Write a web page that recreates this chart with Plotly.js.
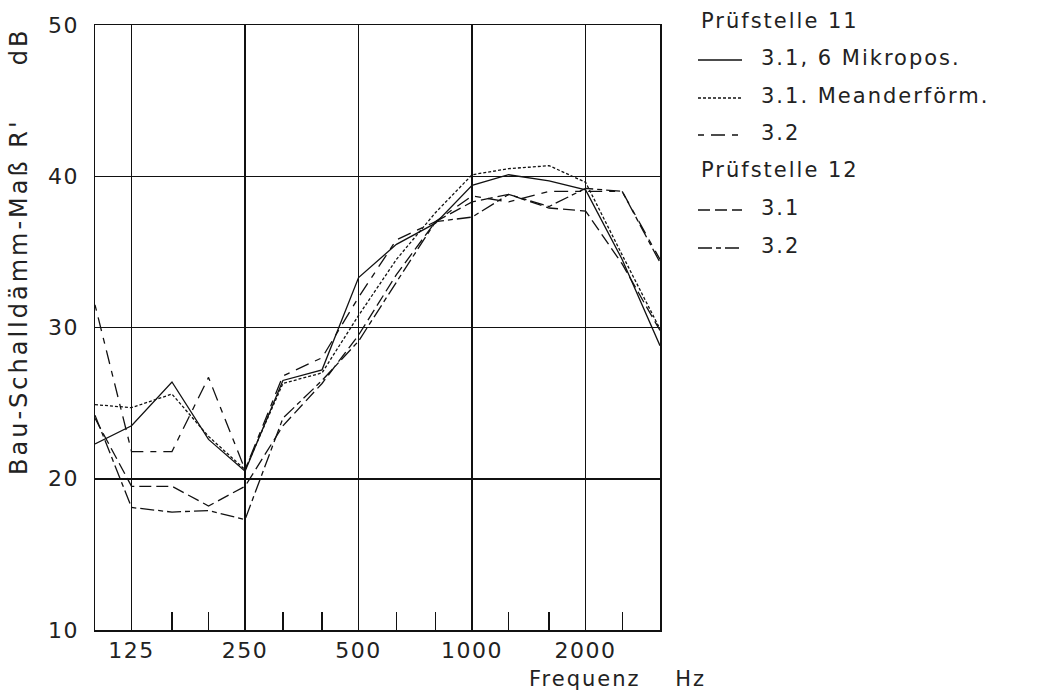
<!DOCTYPE html>
<html>
<head>
<meta charset="utf-8">
<script src="https://cdn.plot.ly/plotly-3.0.1.min.js"></script>
<style>
  html, body { margin: 0; padding: 0; background: #fff; }
  #chart { width: 1060px; height: 695px; }
  #chart .xtick text, #chart .ytick text { letter-spacing: 1.5px; }
</style>
</head>
<body>
<div id="chart"></div>
<script>
// Third-octave band centre frequencies (Hz)
const bands = [100, 125, 160, 200, 250, 315, 400, 500, 630, 800, 1000, 1250, 1600, 2000, 2500, 3150];

// Apparent sound reduction index R' (dB) per band
const p11_31_mikro   = [22.3, 23.5, 26.4, 22.6, 20.5, 26.5, 27.2, 33.3, 35.5, 36.9, 39.4, 40.1, 39.7, 39.1, 34.5, 28.8];
const p11_31_meander = [24.9, 24.7, 25.6, 22.8, 20.6, 26.3, 27.0, 30.8, 34.5, 37.6, 40.1, 40.5, 40.7, 39.6, 34.8, 29.9];
const p11_32         = [31.5, 21.8, 21.8, 26.7, 20.6, 26.8, 28.0, 32.0, 35.8, 37.0, 38.7, 38.3, 39.0, 39.0, 39.0, 34.5];
const p12_31         = [24.0, 19.5, 19.5, 18.2, 19.5, 23.5, 26.3, 29.5, 33.5, 37.0, 38.3, 38.8, 37.9, 37.7, 34.2, 29.8];
const p12_32         = [24.2, 18.1, 17.8, 17.9, 17.3, 24.0, 26.5, 29.1, 33.0, 37.0, 37.3, 38.8, 38.0, 39.2, 39.0, 34.3];

// Axis labelling
const octaveTicks = [125, 250, 500, 1000, 2000];
const octaveLabels = ['125', '250', '500', '1000', '2000'];
const bandTicks = [160, 200, 315, 400, 630, 800, 1250, 1600, 2500];
const dbTicks = [10, 20, 30, 40, 50];

// Legend entries
const groupTitles = ['Prüfstelle 11', 'Prüfstelle 12'];
const legendNames = ['3.1, 6 Mikropos.', '3.1. Meanderförm.', '3.2', '3.1', '3.2'];

const dashes = {
  solid: 'solid',
  fine: '3px,2px',
  shortLong: '6px,7px,14px,7px',
  long: '12px,5px',
  longShort: '14px,4px,5px,4px'
};

const series = [
  { y: p11_31_mikro,   dash: dashes.solid },
  { y: p11_31_meander, dash: dashes.fine },
  { y: p11_32,         dash: dashes.shortLong },
  { y: p12_31,         dash: dashes.long },
  { y: p12_32,         dash: dashes.longShort }
];

const INK = '#111';
const TEXT = '#222';
const FONT = 'DejaVu Sans, sans-serif';
const SPACING = 2;   // letter spacing (px) applied to free text after drawing

const traces = series.map((s, i) => ({
  type: 'scatter',
  mode: 'lines',
  x: bands,
  y: s.y,
  name: legendNames[i],
  line: { color: INK, width: 1.3, dash: s.dash },
  showlegend: false,
  hoverinfo: 'x+y'
}));

// Plot area in pixels
const W = 1060, H = 695;
const M = { l: 95, r: 400, t: 25, b: 65 };
const plotW = W - M.l - M.r, plotH = H - M.t - M.b;
const px = x => (x - M.l) / plotW;
const py = y => (H - M.b - y) / plotH;

// Letter spacing widens text around its centre; offset anchors so edges stay put
const charCount = t => t.replace(/&nbsp;/g, ' ').length;
const leftAt = (x, t, ls) => px(x + charCount(t) * ls / 2);
const rightAt = (x, t, ls) => px(x - charCount(t) * ls / 2);

// Manual legend: group headings, line samples, labels
const annotations = [];
const shapes = [];
const rows = [
  { kind: 'title', text: groupTitles[0], y: 21 },
  { kind: 'item', idx: 0, y: 58 },
  { kind: 'item', idx: 1, y: 96 },
  { kind: 'item', idx: 2, y: 133 },
  { kind: 'title', text: groupTitles[1], y: 170 },
  { kind: 'item', idx: 3, y: 208 },
  { kind: 'item', idx: 4, y: 246 }
];
rows.forEach(r => {
  if (r.kind === 'title') {
    annotations.push({
      xref: 'paper', yref: 'paper', x: leftAt(699, r.text, SPACING), y: py(r.y),
      xanchor: 'left', yanchor: 'middle', showarrow: false,
      text: r.text, font: { family: FONT, size: 21, color: TEXT }
    });
  } else {
    const t = legendNames[r.idx];
    shapes.push({
      type: 'line', xref: 'paper', yref: 'paper',
      x0: px(698), x1: px(742), y0: py(r.y + 2), y1: py(r.y + 2),
      line: { color: INK, width: 1.3, dash: series[r.idx].dash }
    });
    annotations.push({
      xref: 'paper', yref: 'paper', x: leftAt(759, t, SPACING), y: py(r.y),
      xanchor: 'left', yanchor: 'middle', showarrow: false,
      text: t, font: { family: FONT, size: 21, color: TEXT }
    });
  }
});

// Axis titles
const yTitle = "Bau-Schalldämm-Maß R'&nbsp;&nbsp;&nbsp;&nbsp;&nbsp;dB";
annotations.push({
  xref: 'paper', yref: 'paper', x: px(19), y: py(252),
  xanchor: 'center', yanchor: 'middle', showarrow: false, textangle: -90,
  text: yTitle, font: { family: FONT, size: 24, color: TEXT }
});
const xTitle = 'Frequenz&nbsp;&nbsp;&nbsp;&nbsp;Hz';
annotations.push({
  xref: 'paper', yref: 'paper', x: rightAt(708, xTitle, SPACING), y: py(679),
  xanchor: 'right', yanchor: 'middle', showarrow: false,
  text: xTitle, font: { family: FONT, size: 21, color: TEXT }
});

const layout = {
  width: W, height: H,
  margin: M,
  paper_bgcolor: '#fff',
  plot_bgcolor: '#fff',
  font: { family: FONT, size: 22, color: TEXT },
  xaxis: {
    type: 'log',
    range: [Math.log10(100), Math.log10(3150)],
    tickmode: 'array',
    tickvals: octaveTicks,
    ticktext: octaveLabels,
    ticks: '',
    showgrid: true, gridcolor: INK, gridwidth: 1.5,
    showline: true, linecolor: INK, linewidth: 1.5, mirror: true,
    zeroline: false,
    tickfont: { family: FONT, size: 22, color: TEXT },
    minor: {
      tickmode: 'array', tickvals: bandTicks,
      ticks: 'inside', ticklen: 18, tickwidth: 1.2, tickcolor: INK,
      showgrid: false
    }
  },
  yaxis: {
    range: [10, 50],
    tickmode: 'array',
    tickvals: dbTicks,
    ticks: '',
    showgrid: true, gridcolor: INK, gridwidth: 1.5,
    showline: true, linecolor: INK, linewidth: 1.5, mirror: true,
    zeroline: false,
    ticklabelstandoff: 10,
    tickfont: { family: FONT, size: 22, color: TEXT }
  },
  shapes: shapes,
  annotations: annotations,
  showlegend: false
};

Plotly.newPlot('chart', traces, layout, { staticPlot: true }).then(gd => {
  gd.querySelectorAll('.annotation-text').forEach((el, i) => {
    // the rotated axis title gets a slightly wider spacing
    el.style.letterSpacing = (i === annotations.length - 2 ? 3 : SPACING) + 'px';
  });
});
</script>
</body>
</html>
